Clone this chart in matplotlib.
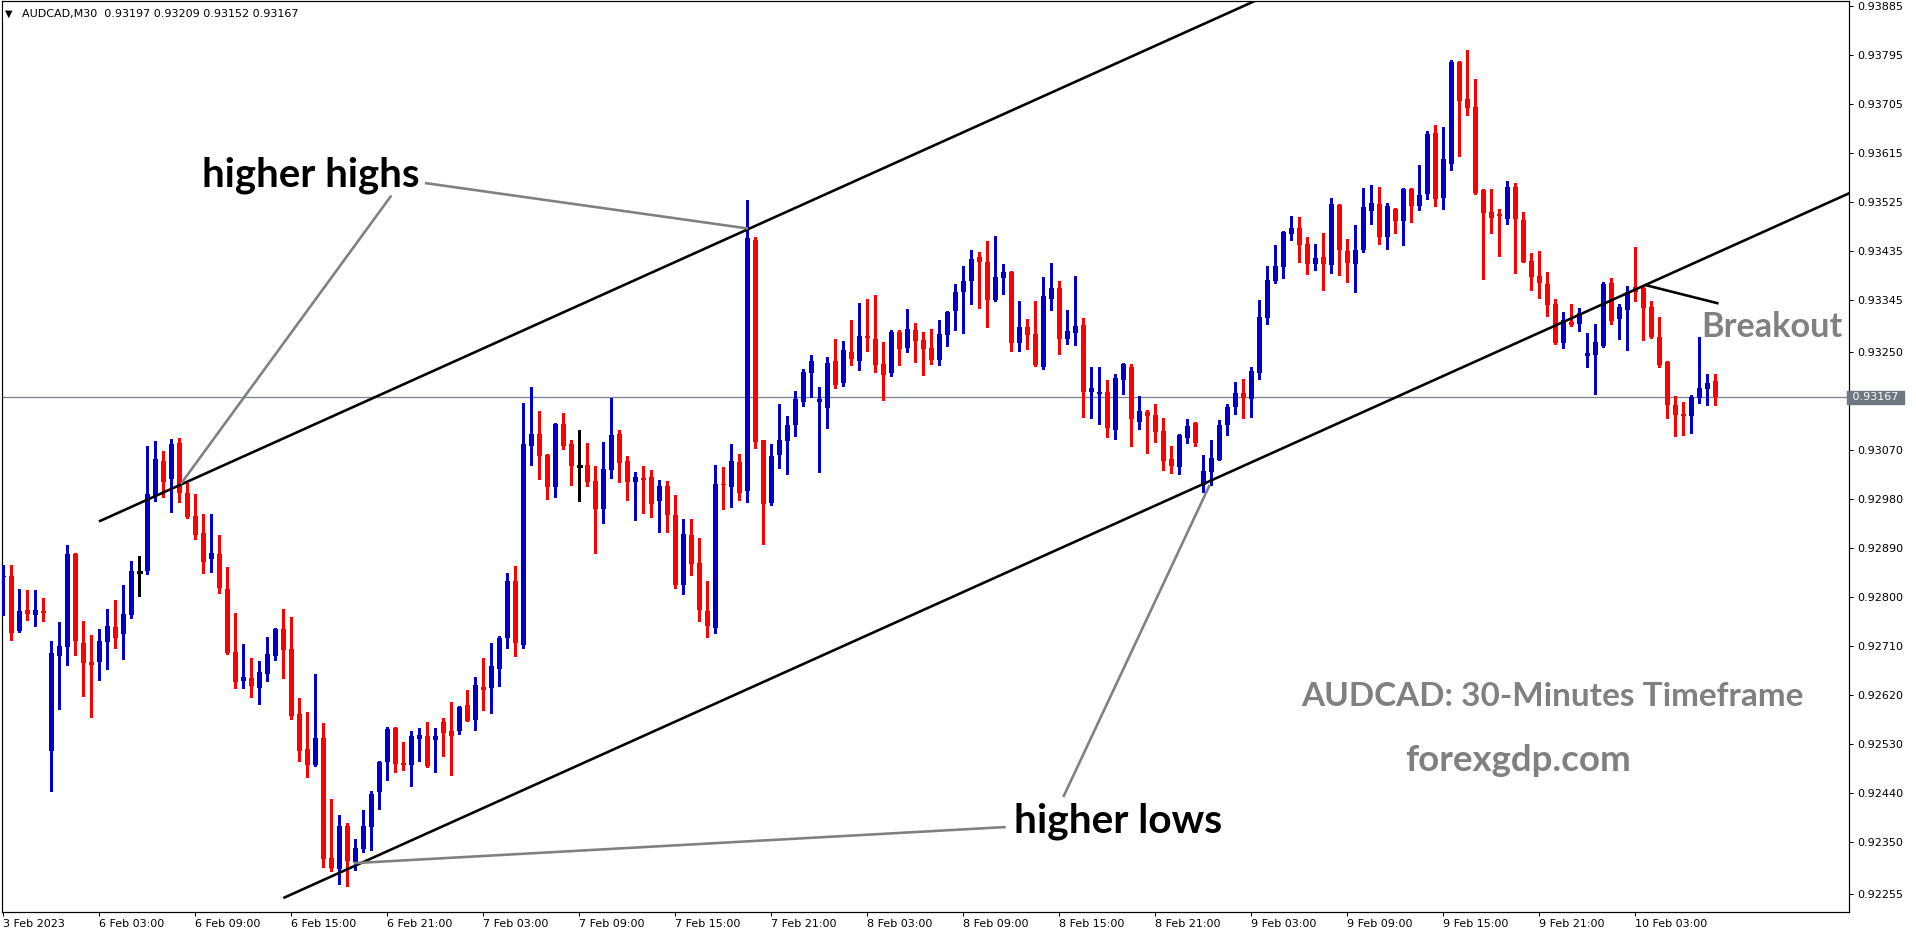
import matplotlib
matplotlib.use("Agg")
import matplotlib.pyplot as plt

# ---------------- data (AUDCAD M30) ----------------
opens = [0.92837,0.92839,0.92738,0.92777,0.92767,0.92775,0.92517,0.92692,0.92709,0.92879,
0.92716,0.92681,0.92682,0.92718,0.92745,0.92733,0.92768,0.92846,0.92848,0.92986,
0.93050,0.93017,0.93083,0.92991,0.92949,0.92918,0.92870,0.92879,0.92815,0.92700,
0.92646,0.92652,0.92633,0.92659,0.92692,0.92742,0.92705,0.92586,0.92522,0.92492,
0.92542,0.92322,0.92301,0.92380,0.92314,0.92338,0.92379,0.92443,0.92498,0.92560,
0.92496,0.92492,0.92540,0.92545,0.92538,0.92571,0.92554,0.92554,0.92602,0.92575,
0.92635,0.92633,0.92668,0.92725,0.92830,0.92712,0.93078,0.93099,0.93061,0.93002,
0.93118,0.93081,0.93041,0.93043,0.93013,0.92962,0.93033,0.93099,0.93050,0.93011,
0.93019,0.93021,0.92976,0.93004,0.92951,0.92822,0.92914,0.92863,0.92775,0.92744,
0.93008,0.93002,0.93048,0.92995,0.93455,0.93088,0.92973,0.93061,0.93087,0.93116,
0.93158,0.93211,0.93158,0.93147,0.93233,0.93193,0.93250,0.93233,0.93279,0.93274,
0.93228,0.93212,0.93287,0.93258,0.93290,0.93272,0.93257,0.93236,0.93282,0.93326,
0.93360,0.93381,0.93424,0.93415,0.93346,0.93386,0.93397,0.93267,0.93296,0.93283,
0.93223,0.93348,0.93367,0.93274,0.93285,0.93299,0.93177,0.93172,0.93177,0.93107,
0.93199,0.93222,0.93122,0.93140,0.93134,0.93105,0.93054,0.93039,0.93093,0.93120,
0.93005,0.93030,0.93052,0.93116,0.93149,0.93175,0.93164,0.93211,0.93312,0.93380,
0.93406,0.93466,0.93477,0.93448,0.93411,0.93424,0.93409,0.93520,0.93435,0.93411,
0.93437,0.93509,0.93521,0.93461,0.93512,0.93491,0.93549,0.93517,0.93539,0.93652,
0.93533,0.93594,0.93782,0.93714,0.93699,0.93547,0.93507,0.93503,0.93494,0.93553,
0.93492,0.93417,0.93389,0.93375,0.93338,0.93266,0.93305,0.93301,0.93243,0.93244,
0.93261,0.93377,0.93310,0.93327,0.93369,0.93367,0.93332,0.93277,0.93232,0.93153,
0.93136,0.93132,0.93166,0.93182,0.93197]
highs = [0.92859,0.92859,0.92815,0.92813,0.92813,0.92798,0.92720,0.92754,0.92896,0.92881,
0.92756,0.92731,0.92742,0.92778,0.92795,0.92822,0.92866,0.92876,0.93077,0.93087,
0.93068,0.93090,0.93092,0.93010,0.92989,0.92953,0.92953,0.92914,0.92855,0.92771,
0.92714,0.92688,0.92683,0.92727,0.92744,0.92778,0.92764,0.92615,0.92589,0.92659,
0.92569,0.92430,0.92400,0.92386,0.92356,0.92410,0.92444,0.92499,0.92561,0.92561,
0.92534,0.92554,0.92560,0.92571,0.92560,0.92578,0.92608,0.92600,0.92630,0.92654,
0.92688,0.92716,0.92729,0.92844,0.92857,0.93156,0.93186,0.93142,0.93062,0.93119,
0.93138,0.93088,0.93107,0.93083,0.93041,0.93085,0.93165,0.93107,0.93059,0.93030,
0.93041,0.93033,0.93015,0.93013,0.92988,0.92943,0.92943,0.92909,0.92830,0.93043,
0.93039,0.93081,0.93063,0.93529,0.93461,0.93089,0.93081,0.93154,0.93132,0.93178,
0.93219,0.93244,0.93186,0.93241,0.93274,0.93270,0.93309,0.93340,0.93347,0.93354,
0.93268,0.93290,0.93290,0.93329,0.93303,0.93287,0.93292,0.93309,0.93325,0.93375,
0.93408,0.93437,0.93433,0.93454,0.93463,0.93411,0.93398,0.93343,0.93310,0.93343,
0.93387,0.93413,0.93380,0.93327,0.93389,0.93312,0.93222,0.93222,0.93198,0.93210,
0.93229,0.93228,0.93169,0.93144,0.93154,0.93129,0.93077,0.93100,0.93127,0.93121,
0.93061,0.93088,0.93125,0.93154,0.93195,0.93200,0.93222,0.93345,0.93408,0.93446,
0.93472,0.93499,0.93498,0.93461,0.93448,0.93468,0.93532,0.93521,0.93457,0.93483,
0.93551,0.93556,0.93553,0.93523,0.93514,0.93550,0.93550,0.93593,0.93655,0.93666,
0.93663,0.93786,0.93783,0.93804,0.93751,0.93549,0.93549,0.93512,0.93564,0.93560,
0.93507,0.93432,0.93435,0.93397,0.93347,0.93323,0.93338,0.93331,0.93285,0.93301,
0.93378,0.93386,0.93338,0.93371,0.93443,0.93373,0.93343,0.93314,0.93233,0.93169,
0.93158,0.93171,0.93277,0.93210,0.93209]
lows = [0.92768,0.92722,0.92736,0.92758,0.92747,0.92756,0.92445,0.92595,0.92676,0.92694,
0.92619,0.92581,0.92649,0.92669,0.92707,0.92687,0.92762,0.92802,0.92843,0.92977,
0.92983,0.92957,0.92975,0.92945,0.92907,0.92844,0.92846,0.92808,0.92696,0.92633,
0.92633,0.92617,0.92604,0.92646,0.92685,0.92652,0.92577,0.92499,0.92470,0.92490,
0.92305,0.92298,0.92274,0.92270,0.92300,0.92333,0.92336,0.92411,0.92465,0.92479,
0.92483,0.92454,0.92499,0.92489,0.92479,0.92509,0.92474,0.92549,0.92572,0.92556,
0.92593,0.92588,0.92637,0.92707,0.92692,0.92707,0.93043,0.93017,0.92980,0.92984,
0.93072,0.93006,0.92976,0.93004,0.92881,0.92936,0.93019,0.93011,0.92978,0.92941,
0.92955,0.92947,0.92920,0.92920,0.92817,0.92806,0.92841,0.92756,0.92727,0.92734,
0.92962,0.92965,0.92978,0.92975,0.93074,0.92898,0.92969,0.93037,0.93026,0.93096,
0.93151,0.93167,0.93030,0.93110,0.93184,0.93187,0.93226,0.93217,0.93252,0.93213,
0.93162,0.93206,0.93226,0.93250,0.93232,0.93208,0.93228,0.93227,0.93261,0.93291,
0.93285,0.93338,0.93331,0.93296,0.93344,0.93357,0.93252,0.93252,0.93256,0.93225,
0.93219,0.93327,0.93247,0.93265,0.93263,0.93131,0.93129,0.93118,0.93094,0.93091,
0.93172,0.93078,0.93109,0.93065,0.93085,0.93034,0.93028,0.93027,0.93083,0.93077,
0.92993,0.93005,0.93051,0.93098,0.93136,0.93129,0.93131,0.93200,0.93301,0.93377,
0.93386,0.93455,0.93415,0.93393,0.93400,0.93364,0.93395,0.93391,0.93378,0.93360,
0.93433,0.93485,0.93449,0.93439,0.93469,0.93447,0.93489,0.93511,0.93531,0.93518,
0.93513,0.93583,0.93610,0.93685,0.93540,0.93383,0.93469,0.93427,0.93485,0.93395,
0.93415,0.93364,0.93349,0.93316,0.93265,0.93257,0.93298,0.93288,0.93222,0.93173,
0.93260,0.93301,0.93274,0.93254,0.93343,0.93272,0.93276,0.93222,0.93129,0.93096,
0.93098,0.93101,0.93156,0.93153,0.93152]
closes = [0.92839,0.92735,0.92775,0.92769,0.92777,0.92771,0.92698,0.92710,0.92879,0.92720,
0.92680,0.92676,0.92720,0.92747,0.92726,0.92769,0.92848,0.92846,0.92989,0.93054,
0.93012,0.93081,0.92992,0.92947,0.92914,0.92865,0.92881,0.92817,0.92698,0.92645,
0.92654,0.92637,0.92663,0.92696,0.92742,0.92703,0.92582,0.92518,0.92492,0.92542,
0.92320,0.92303,0.92380,0.92316,0.92340,0.92380,0.92439,0.92498,0.92559,0.92494,
0.92492,0.92545,0.92547,0.92490,0.92545,0.92551,0.92545,0.92598,0.92573,0.92639,
0.92630,0.92674,0.92725,0.92830,0.92716,0.93081,0.93099,0.93059,0.93002,0.93118,
0.93077,0.93041,0.93041,0.93011,0.92962,0.93035,0.93098,0.93046,0.93011,0.93021,
0.93015,0.92971,0.93004,0.92951,0.92822,0.92916,0.92861,0.92777,0.92747,0.93008,
0.93006,0.93050,0.92991,0.93459,0.93085,0.92971,0.93059,0.93088,0.93116,0.93164,
0.93213,0.93233,0.93164,0.93230,0.93189,0.93254,0.93237,0.93279,0.93276,0.93227,
0.93208,0.93287,0.93256,0.93292,0.93271,0.93256,0.93236,0.93283,0.93324,0.93360,
0.93380,0.93421,0.93416,0.93346,0.93387,0.93397,0.93267,0.93296,0.93282,0.93227,
0.93353,0.93367,0.93274,0.93288,0.93298,0.93177,0.93184,0.93177,0.93111,0.93202,
0.93228,0.93127,0.93142,0.93133,0.93104,0.93050,0.93041,0.93098,0.93114,0.93083,
0.93032,0.93055,0.93116,0.93149,0.93175,0.93166,0.93215,0.93314,0.93382,0.93408,
0.93470,0.93477,0.93446,0.93411,0.93422,0.93411,0.93521,0.93437,0.93413,0.93437,
0.93516,0.93523,0.93461,0.93518,0.93491,0.93549,0.93518,0.93538,0.93650,0.93531,
0.93604,0.93782,0.93711,0.93698,0.93542,0.93505,0.93496,0.93500,0.93553,0.93494,
0.93416,0.93388,0.93377,0.93336,0.93266,0.93309,0.93300,0.93321,0.93248,0.93268,
0.93375,0.93307,0.93332,0.93360,0.93360,0.93331,0.93277,0.93226,0.93153,0.93134,
0.93132,0.93167,0.93184,0.93193,0.93167]

symbol = "AUDCAD,M30"
x_tick_bars = [0, 12, 24, 36, 48, 60, 72, 84, 96, 108, 120, 132, 144, 156, 168, 180, 192, 204]
x_tick_labels = ["3 Feb 2023", "6 Feb 03:00", "6 Feb 09:00", "6 Feb 15:00", "6 Feb 21:00",
                 "7 Feb 03:00", "7 Feb 09:00", "7 Feb 15:00", "7 Feb 21:00", "8 Feb 03:00",
                 "8 Feb 09:00", "8 Feb 15:00", "8 Feb 21:00", "9 Feb 03:00", "9 Feb 09:00",
                 "9 Feb 15:00", "9 Feb 21:00", "10 Feb 03:00"]
y_tick_values = [0.93885, 0.93795, 0.93705, 0.93615, 0.93525, 0.93435, 0.93345, 0.93250,
                 0.93070, 0.92980, 0.92890, 0.92800, 0.92710, 0.92620, 0.92530, 0.92440,
                 0.92350, 0.92255]
bid_price = 0.93167

# hand-drawn channel / annotation lines: (bar, price) endpoints
upper_channel = [(11.96, 0.92939), (200.0, 0.94182)]
lower_channel = [(35.0, 0.92248), (231.0, 0.93543)]
breakout_line = [(205.2, 0.93373), (214.4, 0.93339)]
pointer_hh_spike = [(52.7, 0.93560), (93.1, 0.934765)]
pointer_hh_left = [(48.5, 0.93537), (22.2, 0.93008)]
pointer_hl_left = [(125.3, 0.923783), (43.8, 0.92312)]
pointer_hl_right = [(132.5, 0.924334), (150.8, 0.93006)]

# ---------------- figure ----------------
W, H, DPI = 1916, 936, 100
fig = plt.figure(figsize=(W / DPI, H / DPI), dpi=DPI)
fig.patch.set_facecolor("white")
PX_L, PX_R, PX_T, PX_B = 2, 1849, 1, 912
ax = fig.add_axes([PX_L / W, 1 - PX_B / H, (PX_R - PX_L) / W, (PX_B - PX_T) / H])
ax.set_xlim(-0.16, 230.71)
ax.set_ylim(0.922224, 0.938940)
ax.set_facecolor("white")

PT = 72.0 / DPI  # one pixel in points
BULL, BEAR, DOJI = "#0000CD", "#FF0000", "#000000"
min_body = 1.4e-5
LABEL_FS = 8.0

for i, (o, h, l, c) in enumerate(zip(opens, highs, lows, closes)):
    col = BULL if c > o else (BEAR if c < o else DOJI)
    ax.vlines(i, l, h, colors=col, linewidth=1.2 * PT, antialiased=False, zorder=3)
    if col == DOJI:
        ax.hlines(o, i - 0.32, i + 0.32, colors=col, linewidth=1.2 * PT, antialiased=False, zorder=3)
    else:
        bot = min(o, c)
        hgt = max(abs(c - o), min_body)
        ax.bar(i, hgt, bottom=bot, width=0.64, color=col, linewidth=0, antialiased=False, zorder=3)

# bid line
ax.axhline(bid_price, color="#7A8590", linewidth=1.3 * PT, zorder=2)

# channel lines
for seg, col, lw in [(upper_channel, "black", 2.6), (lower_channel, "black", 2.6),
                     (breakout_line, "black", 2.6),
                     (pointer_hh_spike, "#808080", 2.6), (pointer_hh_left, "#808080", 2.6),
                     (pointer_hl_left, "#808080", 2.6), (pointer_hl_right, "#808080", 2.6)]:
    (x0, y0), (x1, y1) = seg
    ax.plot([x0, x1], [y0, y1], color=col, linewidth=lw * PT, solid_capstyle="butt", zorder=4)

# axes styling
for s in ax.spines.values():
    s.set_color("black")
    s.set_linewidth(1.2 * PT)
ax.yaxis.tick_right()
ax.set_yticks(y_tick_values)
ax.set_yticklabels([f"{v:.5f}" for v in y_tick_values])
ax.set_xticks(x_tick_bars)
ax.set_xticklabels(x_tick_labels)
ax.tick_params(axis="both", direction="out", length=4 * PT, width=1 * PT, color="black",
               labelsize=LABEL_FS, labelcolor="black", pad=2)
for lbl in ax.get_xticklabels():
    lbl.set_ha("left")
ax.tick_params(axis="y", pad=3)

# bid price box on the right axis
ax.text(1.0, bid_price, f" {bid_price:.5f} ", transform=ax.get_yaxis_transform(),
        ha="left", va="center", fontsize=LABEL_FS, color="white", zorder=6, clip_on=False,
        bbox=dict(boxstyle="square,pad=0.15", fc="#6E7882", ec="#6E7882"))

# header
fig.text(5 / W, 1 - 14 / H, "\u25bc", ha="left", va="center", fontsize=7, color="black",
         bbox=dict(boxstyle="square,pad=0.2", fc="white", ec="none"))
fig.text(22 / W, 1 - 14 / H,
         symbol + "  " + " ".join(f"{v:.5f}" for v in (opens[-1], highs[-1], lows[-1], closes[-1])),
         ha="left", va="center", fontsize=LABEL_FS, color="black",
         bbox=dict(boxstyle="square,pad=0.2", fc="white", ec="none"))

# annotations, fitted to measured widths
fig.canvas.draw()
renderer = fig.canvas.get_renderer()

def fit_text(x_px, base_px, s, width_px, color):
    t = fig.text(x_px / W, 1 - base_px / H, s, ha="left", va="baseline", fontsize=20,
                 fontweight="bold", family=["Lato", "DejaVu Sans"], color=color, zorder=7)
    w = t.get_window_extent(renderer=renderer).width
    t.set_fontsize(20 * width_px / w)
    return t

fit_text(202, 187, "higher highs", 217, "black")
fit_text(1014, 832, "higher lows", 208, "black")
fit_text(1701, 337, "Breakout", 141, "#808080")
fit_text(1301, 706, "AUDCAD: 30-Minutes Timeframe", 503, "#808080")
fit_text(1405, 771, "forexgdp.com", 226, "#808080")

fig.savefig("out.png", dpi=DPI, facecolor="white")
